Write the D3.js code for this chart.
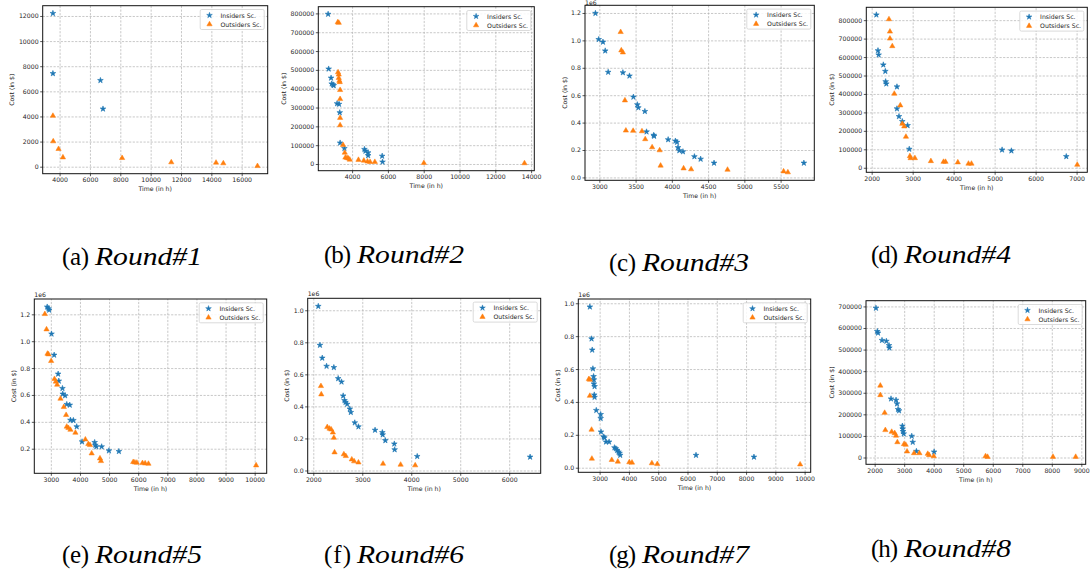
<!DOCTYPE html>
<html><head><meta charset="utf-8">
<script src="https://cdn.jsdelivr.net/npm/d3@7"></script>
<style>body{margin:0;background:#fff}svg{display:block}</style>
</head><body>
<script>
// ---- data: [time (h), cost ($)] ----
const r1Insiders = [[3560,12210],[3560,7420],[6690,6870],[6860,4600]];
const r1Outsiders = [[3560,4050],[3580,2020],[3930,1410],[4220,740],[8120,690],[11360,350],[14310,320],[14790,270],[17040,50]];
const r2Insiders = [[2660,796000],[2690,505000],[2825,457000],[2860,426000],[2935,421000],[2975,417000],[3160,321000],[3270,318000],[3310,273000],[3330,112000],[3570,83000],[4690,78000],[4745,69000],[4895,60000],[4895,45000],[5680,42000],[5700,11000]];
const r2Outsiders = [[3200,753000],[3255,750000],[3215,487000],[3255,475000],[3255,457000],[3290,442000],[3310,435000],[3330,393000],[3330,345000],[3330,245000],[3330,206000],[3495,101000],[3590,60000],[3625,34000],[3720,32000],[3795,29000],[3870,23000],[4355,22000],[4655,18000],[4860,13000],[5005,11000],[5270,11000],[8010,5000],[13630,4000]];
const r3Insiders = [[2946,1198000],[2991,1007000],[3050,988000],[3081,924000],[3122,768000],[3325,765000],[3416,741000],[3470,587000],[3524,531000],[3538,509000],[3628,482000],[3651,333000],[3750,308000],[3755,301000],[3949,276000],[4049,266000],[4071,257000],[4085,218000],[4103,196000],[4153,188000],[4311,152000],[4397,134000],[4582,105000],[5821,105000]];
const r3Outsiders = [[3294,1061000],[3303,927000],[3325,912000],[3353,562000],[3366,342000],[3466,340000],[3588,337000],[3633,279000],[3728,220000],[3832,198000],[3845,86000],[4162,66000],[4266,59000],[4768,56000],[5541,44000],[5600,37000]];
const r4Insiders = [[2114,829000],[2154,635000],[2170,612000],[2284,558000],[2333,523000],[2341,467000],[2357,455000],[2617,439000],[2617,320000],[2666,278000],[2747,251000],[2877,229000],[2917,101000],[5182,97000],[5409,92000],[6748,61000]];
const r4Outsiders = [[2422,805000],[2446,738000],[2446,700000],[2503,659000],[2552,401000],[2698,338000],[2747,238000],[2795,224000],[2836,168000],[2933,63000],[2950,52000],[3055,52000],[3445,36000],[3753,32000],[3802,32000],[4102,29000],[4362,22000],[4435,22000],[7016,16000]];
const r5Insiders = [[2875,1255000],[2920,1242000],[2943,1232000],[3023,1054000],[3114,897000],[3251,756000],[3274,704000],[3399,649000],[3410,607000],[3490,595000],[3547,530000],[3650,525000],[3673,413000],[3775,411000],[3889,364000],[4072,252000],[4505,247000],[4528,227000],[4562,215000],[4745,215000],[4995,185000],[5337,180000]];
const r5Outsiders = [[2795,1202000],[2852,1088000],[2886,907000],[2920,902000],[3011,853000],[3125,719000],[3171,699000],[3217,676000],[3331,572000],[3445,510000],[3525,451000],[3547,364000],[3604,354000],[3673,341000],[3844,319000],[4186,269000],[4288,235000],[4345,227000],[4402,165000],[4688,128000],[4722,108000],[5828,101000],[5885,98000],[5953,96000],[6147,93000],[6238,91000],[6352,88000],[10050,76000]];
const r6Insiders = [[2102,1025000],[2136,782000],[2183,702000],[2271,651000],[2420,643000],[2508,574000],[2576,553000],[2610,466000],[2637,437000],[2658,426000],[2692,414000],[2746,384000],[2766,363000],[2847,298000],[2922,273000],[3261,252000],[3410,237000],[3417,223000],[3471,187000],[3654,166000],[3661,130000],[4122,88000],[6427,84000]];
const r6Outsiders = [[2156,527000],[2163,475000],[2285,271000],[2332,261000],[2366,256000],[2400,237000],[2420,204000],[2434,113000],[2624,101000],[2664,90000],[2786,69000],[2834,57000],[2922,50000],[3424,42000],[3783,36000],[4081,32000]];
const r7Insiders = [[2666,978000],[2724,784000],[2747,716000],[2770,602000],[2793,555000],[2804,535000],[2804,510000],[2827,494000],[2816,443000],[2827,429000],[2885,349000],[3035,324000],[3035,300000],[3046,218000],[3138,188000],[3161,182000],[3219,157000],[3322,157000],[3506,122000],[3552,116000],[3598,106000],[3644,96000],[3679,88000],[3702,76000],[6291,76000],[8270,65000]];
const r7Outsiders = [[2632,539000],[2666,535000],[2666,437000],[2724,231000],[2735,55000],[3414,47000],[3621,37000],[4013,33000],[4105,31000],[4784,27000],[4968,22000],[9847,20000]];
const r8Insiders = [[2045,692000],[2090,584000],[2113,577000],[2249,543000],[2396,539000],[2486,519000],[2498,508000],[2554,272000],[2724,266000],[2758,249000],[2792,223000],[2826,217000],[2939,146000],[2950,133000],[2962,121000],[2984,110000],[3256,99000],[3290,71000],[3414,29000],[4014,26000]];
const r8Outsiders = [[2192,333000],[2192,289000],[2339,207000],[2362,127000],[2577,119000],[2679,113000],[2724,101000],[2769,71000],[2995,62000],[3052,59000],[3097,28000],[3335,20000],[3516,20000],[3799,17000],[3844,11000],[4002,6000],[5756,6000],[5824,3000],[8041,3000],[8810,3000]];

// ---- tick values ----
const r1XTicks = [4000,6000,8000,10000,12000,14000,16000];
const r1YTicks = [0,2000,4000,6000,8000,10000,12000];
const r2XTicks = [4000,6000,8000,10000,12000,14000];
const r2YTicks = [0,100000,200000,300000,400000,500000,600000,700000,800000];
const r3XTicks = [3000,3500,4000,4500,5000,5500];
const r3YTicks = [0,200000,400000,600000,800000,1000000,1200000];
const r4XTicks = [2000,3000,4000,5000,6000,7000];
const r4YTicks = [0,100000,200000,300000,400000,500000,600000,700000,800000];
const r5XTicks = [3000,4000,5000,6000,7000,8000,9000,10000];
const r5YTicks = [200000,400000,600000,800000,1000000,1200000];
const r6XTicks = [2000,3000,4000,5000,6000];
const r6YTicks = [0,200000,400000,600000,800000,1000000];
const r7XTicks = [3000,4000,5000,6000,7000,8000,9000,10000];
const r7YTicks = [0,200000,400000,600000,800000,1000000];
const r8XTicks = [2000,3000,4000,5000,6000,7000,8000,9000];
const r8YTicks = [0,100000,200000,300000,400000,500000,600000,700000];

const subLetters = ["(a)","(b)","(c)","(d)","(e)","(f)","(g)","(h)"];
const roundNames = ["Round#1","Round#2","Round#3","Round#4","Round#5","Round#6","Round#7","Round#8"];
const seriesNames = ["Insiders Sc.","Outsiders Sc."];
const xLabel = "Time (in h)", yLabel = "Cost (in $)";

// ---- layout (frame boxes [left, top, right, bottom], caption [centerX, baseline]) ----
const layout = [
  {box:[42.7,5.7,267.7,173.7], cap:[132,265], sci:false},
  {box:[318.3,6.7,534.3,170.7], cap:[394,263], sci:false},
  {box:[585,5.3,814.3,180.3], cap:[679,271], sci:true},
  {box:[866.3,7.3,1087.3,172.3], cap:[941,263], sci:false},
  {box:[34.3,299,266.7,473.3], cap:[132,563], sci:true},
  {box:[307.7,298.3,540.7,473.3], cap:[394,563], sci:true},
  {box:[578.3,299,810.7,472.3], cap:[679,563], sci:true},
  {box:[866,300.7,1085.7,464.3], cap:[941,557], sci:false}
];
const panelData = [
  [r1Insiders,r1Outsiders,r1XTicks,r1YTicks],
  [r2Insiders,r2Outsiders,r2XTicks,r2YTicks],
  [r3Insiders,r3Outsiders,r3XTicks,r3YTicks],
  [r4Insiders,r4Outsiders,r4XTicks,r4YTicks],
  [r5Insiders,r5Outsiders,r5XTicks,r5YTicks],
  [r6Insiders,r6Outsiders,r6XTicks,r6YTicks],
  [r7Insiders,r7Outsiders,r7XTicks,r7YTicks],
  [r8Insiders,r8Outsiders,r8XTicks,r8YTicks]
];

const BLUE = "#1f77b4", ORANGE = "#ff7f0e";
const FONT = "DejaVu Sans, sans-serif", FS = 6.2, TXT = "#262626";
const starPath = d3.symbol(d3.symbolStar, 10)();
const triPath = d3.symbol(d3.symbolTriangle, 12)();

const svg = d3.select("body").append("svg").attr("width",1092).attr("height",579);

panelData.forEach(([ins, outs, xt, yt], i) => {
  const L = layout[i];
  const [l,t,r,b] = L.box;
  const all = ins.concat(outs);
  const xe = d3.extent(all, d => d[0]), ye = d3.extent(all, d => d[1]);
  const xm = (xe[1]-xe[0])*0.05, ym = (ye[1]-ye[0])*0.05;
  const x = d3.scaleLinear().domain([xe[0]-xm, xe[1]+xm]).range([l, r]);
  const y = d3.scaleLinear().domain([ye[0]-ym, ye[1]+ym]).range([b, t]);
  const g = svg.append("g");

  // grid
  const gridStyle = s => {
    s.select(".domain").remove();
    s.selectAll("line").attr("stroke","#b0b0b0").attr("stroke-width",0.7).attr("stroke-dasharray","2.2,1.4");
  };
  g.append("g").attr("transform",`translate(0,${b})`)
    .call(d3.axisBottom(x).tickValues(xt).tickSize(-(b-t)).tickFormat("")).call(gridStyle);
  g.append("g").attr("transform",`translate(${l},0)`)
    .call(d3.axisLeft(y).tickValues(yt).tickSize(-(r-l)).tickFormat("")).call(gridStyle);

  // axes
  const axStyle = s => {
    s.select(".domain").remove();
    s.selectAll("line").attr("stroke","#111").attr("stroke-width",0.7);
    s.selectAll("text").attr("font-family",FONT).attr("font-size",FS).attr("fill",TXT);
  };
  g.append("g").attr("transform",`translate(0,${b})`)
    .call(d3.axisBottom(x).tickValues(xt).tickSize(2.5).tickPadding(1.6).tickFormat(d3.format("d")))
    .call(axStyle);
  const yFmt = L.sci ? (v => d3.format(".1f")(v/1e6)) : d3.format("d");
  const ya = g.append("g").attr("transform",`translate(${l},0)`)
    .call(d3.axisLeft(y).tickValues(yt).tickSize(2.5).tickPadding(1.6).tickFormat(yFmt))
    .call(axStyle);

  // frame
  g.append("rect").attr("x",l).attr("y",t).attr("width",r-l).attr("height",b-t)
    .attr("fill","none").attr("stroke","#111").attr("stroke-width",1);

  if (L.sci) {
    g.append("text").attr("x",l).attr("y",Math.max(t-2.5,5.2)).text("1e6")
      .attr("font-family",FONT).attr("font-size",FS).attr("fill",TXT);
  }

  // markers
  g.append("g").selectAll("path").data(ins).join("path")
    .attr("transform", d => `translate(${x(d[0])},${y(d[1])})`)
    .attr("d", starPath).attr("fill", BLUE).attr("stroke", BLUE).attr("stroke-width",0.6).attr("stroke-linejoin","round");
  g.append("g").selectAll("path").data(outs).join("path")
    .attr("transform", d => `translate(${x(d[0])},${y(d[1])})`)
    .attr("d", triPath).attr("fill", ORANGE).attr("stroke", ORANGE).attr("stroke-width",0.5);

  // axis labels
  g.append("text").attr("x",(l+r)/2).attr("y",b+17.5).attr("text-anchor","middle").text(xLabel)
    .attr("font-family",FONT).attr("font-size",FS).attr("fill",TXT);
  const yb = ya.node().getBBox();
  g.append("text").attr("transform",`translate(${l+yb.x-4.5},${(t+b)/2}) rotate(-90)`)
    .attr("text-anchor","middle").text(yLabel)
    .attr("font-family",FONT).attr("font-size",FS).attr("fill",TXT);

  // legend
  const lw = 64, lh = 20, lx = r-3.5-lw, ly = t+3.8;
  const lg = g.append("g");
  lg.append("rect").attr("x",lx).attr("y",ly).attr("width",lw).attr("height",lh).attr("rx",1.5)
    .attr("fill","#fff").attr("fill-opacity",0.85).attr("stroke","#cccccc").attr("stroke-width",0.7);
  [[starPath,BLUE],[triPath,ORANGE]].forEach(([p,c],k) => {
    const cy = ly + 5.8 + k*9;
    lg.append("path").attr("d",p).attr("fill",c).attr("stroke",c).attr("stroke-width",0.5)
      .attr("transform",`translate(${lx+9.3},${cy})`);
    lg.append("text").attr("x",lx+20.3).attr("y",cy+2.2).text(seriesNames[k])
      .attr("font-family",FONT).attr("font-size",FS).attr("fill",TXT);
  });

  // caption
  const [cx, cb] = L.cap;
  const x0 = cx - 70;
  svg.append("text").attr("x",x0).attr("y",cb).text(subLetters[i])
    .attr("font-family","Liberation Serif, serif").attr("font-size",25).attr("fill","#000")
    .attr("textLength",27).attr("lengthAdjust","spacing");
  svg.append("text").attr("x",x0+33).attr("y",cb).text(roundNames[i])
    .attr("font-family","'Liberation Serif', serif").attr("font-style","italic").attr("font-size",25).attr("fill","#000")
    .attr("textLength",107).attr("lengthAdjust","spacingAndGlyphs");
});
</script>
</body></html>
